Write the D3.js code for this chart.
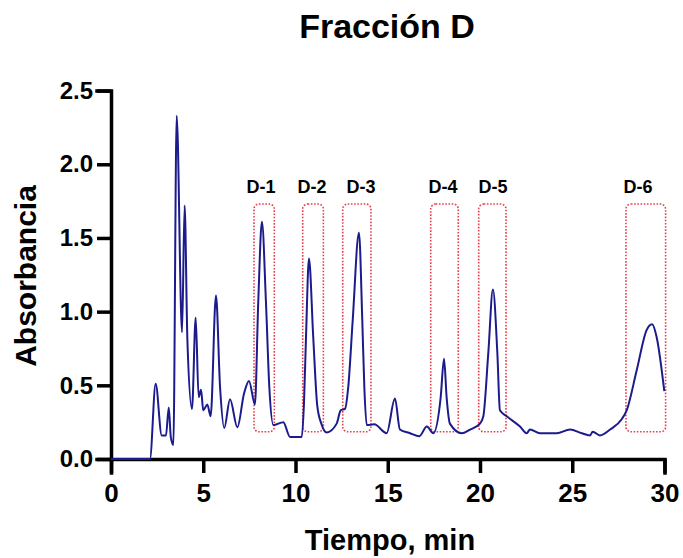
<!DOCTYPE html>
<html>
<head>
<meta charset="utf-8">
<script src="https://cdn.jsdelivr.net/npm/d3@7"></script>
<style>
  html, body { margin: 0; padding: 0; background: #fff; }
  svg { display: block; }
  text { font-family: "Liberation Sans", Arial, Helvetica, sans-serif; font-weight: bold; fill: #000; }
</style>
</head>
<body>
<svg id="chart" width="683" height="558"></svg>
<script>
// ---- Data ----
const times = [0, 2.11, 2.42, 2.75, 2.98, 3.13, 3.24, 3.38, 3.56, 3.85, 3.99, 4.14, 4.39, 4.59, 4.75, 4.88, 5.0, 5.22, 5.40, 5.69, 5.91, 6.14, 6.45, 6.85, 7.21, 7.48, 7.80, 7.98, 8.18, 8.40, 8.58, 8.80, 9.34, 9.70, 10.34, 10.46, 10.57, 10.73, 10.96, 11.18, 11.40, 11.69, 12.23, 12.45, 12.68, 12.86, 13.10, 13.44, 13.62, 13.73, 13.86, 14.27, 14.94, 15.39, 15.66, 16.21, 16.71, 17.12, 17.47, 17.87, 18.05, 18.19, 18.37, 19.01, 19.46, 20.0, 20.18, 20.45, 20.70, 20.94, 21.08, 21.45, 22.17, 22.53, 22.71, 23.25, 24.16, 24.88, 25.51, 25.96, 26.11, 26.50, 27.05, 27.68, 27.95, 28.49, 29.03, 29.33, 29.57, 29.99];
const absorbance = [0, 0, 0.51, 0.16, 0.16, 0.35, 0.15, 0.095, 2.33, 0.86, 1.72, 0.81, 0.34, 0.96, 0.42, 0.47, 0.33, 0.37, 0.29, 1.11, 0.49, 0.21, 0.405, 0.215, 0.445, 0.53, 0.37, 1.06, 1.61, 1.06, 0.49, 0.23, 0.25, 0.15, 0.15, 0.38, 0.83, 1.36, 0.83, 0.36, 0.24, 0.18, 0.24, 0.33, 0.34, 0.49, 0.94, 1.535, 0.94, 0.49, 0.23, 0.235, 0.175, 0.41, 0.20, 0.175, 0.155, 0.22, 0.175, 0.42, 0.68, 0.42, 0.24, 0.175, 0.20, 0.24, 0.29, 0.72, 1.15, 0.72, 0.33, 0.29, 0.22, 0.175, 0.20, 0.175, 0.175, 0.20, 0.175, 0.16, 0.185, 0.16, 0.20, 0.27, 0.33, 0.60, 0.875, 0.915, 0.83, 0.46];

const fractionLabels = ["D-1", "D-2", "D-3", "D-4", "D-5", "D-6"];
const boxStart = [7.75, 10.39, 12.56, 17.33, 19.93, 27.91];
const boxEnd   = [8.85, 11.51, 14.09, 18.82, 21.41, 30.06];
const boxTop = 1.73;
const boxBottom = 0.185;
const labelTimes = [8.13, 10.89, 13.55, 17.99, 20.70, 28.57];
const labelLevel = 1.805;

const xTicks = [0, 5, 10, 15, 20, 25, 30];
const yTicks = [0.0, 0.5, 1.0, 1.5, 2.0, 2.5];

const titleText = "Fracción D";
const xTitle = "Tiempo, min";
const yTitle = "Absorbancia";

// ---- Layout ----
const svg = d3.select("#chart");
const mLeft = 111, mRight = 664.5, mTop = 90.6, mBottom = 459;

const x = d3.scaleLinear().domain([0, 30]).range([mLeft, mRight]);
const y = d3.scaleLinear().domain([0, 2.5]).range([mBottom, mTop]);

// Boxes
svg.append("g").selectAll("rect")
  .data(fractionLabels)
  .join("rect")
  .attr("x", (d, i) => x(boxStart[i]))
  .attr("y", y(boxTop))
  .attr("width", (d, i) => x(boxEnd[i]) - x(boxStart[i]))
  .attr("height", y(boxBottom) - y(boxTop))
  .attr("rx", 5).attr("ry", 5)
  .attr("fill", "none")
  .attr("stroke", "#e5404e")
  .attr("stroke-width", 1.6)
  .attr("stroke-dasharray", "1.6,1.6");

// Axes
const xAxis = d3.axisBottom(x).tickValues(xTicks).tickFormat(d3.format("d"))
  .tickSizeInner(14).tickSizeOuter(14).tickPadding(11);
const gx = svg.append("g").attr("transform", `translate(0,${mBottom})`).call(xAxis);
gx.selectAll("path, line").attr("stroke", "#000").attr("stroke-width", 3.5);
gx.selectAll("text").style("font-size", "26px").attr("font-family", null);

const yAxis = d3.axisLeft(y).tickValues(yTicks).tickFormat(d3.format(".1f"))
  .tickSizeInner(14).tickSizeOuter(14).tickPadding(4);
const gy = svg.append("g").attr("transform", `translate(${mLeft},0)`).call(yAxis);
gy.selectAll("path, line").attr("stroke", "#000").attr("stroke-width", 3.5);
gy.selectAll("text").style("font-size", "24px").attr("font-family", null);
svg.selectAll(".domain").attr("stroke-linecap", "square");

// Line (drawn over the axes, as in the reference)
const pts = times.map((t, i) => [t, absorbance[i]]);
const line = d3.line()
  .x(d => x(d[0]))
  .y(d => y(d[1]))
  .curve(d3.curveMonotoneX);
svg.append("path")
  .datum(pts)
  .attr("d", line)
  .attr("fill", "none")
  .attr("stroke", "#1b1b8c")
  .attr("stroke-width", 2)
  .attr("stroke-linejoin", "round");

// Labels
svg.append("g").selectAll("text")
  .data(fractionLabels)
  .join("text")
  .attr("x", (d, i) => x(labelTimes[i]))
  .attr("y", y(labelLevel))
  .attr("text-anchor", "middle")
  .style("font-size", "18px")
  .text(d => d);

// Titles
svg.append("text")
  .attr("x", 387).attr("y", 38)
  .attr("text-anchor", "middle")
  .style("font-size", "34px")
  .text(titleText);

svg.append("text")
  .attr("x", 390).attr("y", 550)
  .attr("text-anchor", "middle")
  .style("font-size", "29px")
  .text(xTitle);

svg.append("text")
  .attr("transform", "translate(36,276) rotate(-90)")
  .attr("text-anchor", "middle")
  .style("font-size", "30px")
  .text(yTitle);
</script>
</body>
</html>
